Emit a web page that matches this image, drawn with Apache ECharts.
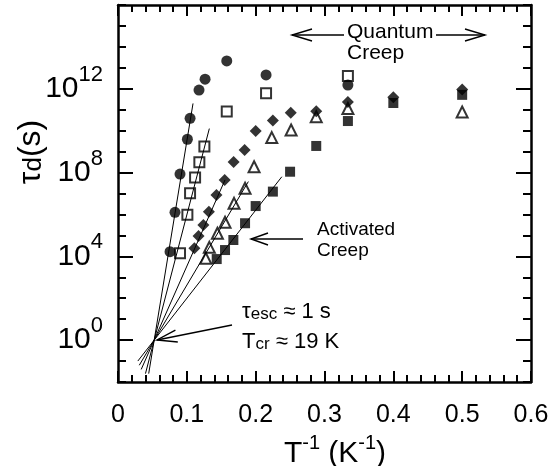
<!DOCTYPE html>
<html>
<head>
<meta charset="utf-8">
<script src="https://cdn.jsdelivr.net/npm/echarts@6/dist/echarts.min.js"></script>
<style>
html, body { margin: 0; padding: 0; background: #fff; }
#chart { width: 560px; height: 466px; }
</style>
</head>
<body>
<div id="chart"></div>
<script>
// x = 1/T (1/K), y = log10(tau_d / s)
var circleX = [0.0756, 0.0828, 0.0901, 0.1008, 0.1047, 0.1177, 0.1265, 0.158, 0.2151, 0.334];
var circleY = [4.22, 6.1, 7.93, 9.59, 10.59, 11.94, 12.46, 13.33, 12.66, 12.18];

var openSqX = [0.0901, 0.1008, 0.1047, 0.112, 0.1182, 0.1255, 0.158, 0.2151, 0.334];
var openSqY = [4.15, 5.98, 7.01, 7.76, 8.49, 9.24, 10.91, 11.79, 12.61];

var diamondX = [0.111, 0.117, 0.124, 0.132, 0.143, 0.155, 0.168, 0.184, 0.2, 0.225, 0.251, 0.288, 0.334, 0.4, 0.5];
var diamondY = [4.38, 4.97, 5.5, 6.13, 6.93, 7.65, 8.5, 9.08, 9.99, 10.48, 10.86, 10.93, 11.37, 11.59, 11.97];

var triangleX = [0.1275, 0.1327, 0.1444, 0.1555, 0.1686, 0.1846, 0.1977, 0.2234, 0.2515, 0.288, 0.334, 0.5];
var triangleY = [3.91, 4.43, 5.1, 5.63, 6.53, 7.25, 8.28, 9.67, 10.03, 10.67, 11.06, 10.89];

var squareX = [0.1434, 0.1555, 0.1676, 0.1846, 0.2, 0.225, 0.25, 0.288, 0.334, 0.4, 0.5];
var squareY = [3.87, 4.3, 4.78, 5.58, 6.4, 7.09, 8.04, 9.27, 10.46, 11.32, 11.71];

// activated-creep fits, all through T_cr = 19 K, tau_esc = 1 s
var fitX0 = [0.0446, 0.0399, 0.0337, 0.0309, 0.0288];
var fitY0 = [-1.6, -1.6, -1.4, -1.2, -1.0];
var fitX1 = [0.109, 0.1327, 0.1555, 0.1894, 0.238];
var fitY1 = [11.3, 10.1, 7.65, 7.57, 7.8];

var xTicks = [0, 0.1, 0.2, 0.3, 0.4, 0.5, 0.6];
var yLabelExp = [0, 4, 8, 12];

var font = 'Liberation Sans, Arial, Helvetica, sans-serif';

function pairs(xs, ys) {
	return xs.map(function (x, i) { return [x, ys[i]]; });
}

var myChart = echarts.init(document.getElementById('chart'));

var frame = { show: true, onZero: false, lineStyle: { color: '#000', width: 2.5 } };

function xAx(pos, showLabel) {
	return {
		type: 'value', position: pos, min: xTicks[0], max: xTicks[xTicks.length - 1], interval: 0.1,
		axisLine: frame,
		axisTick: { show: true, inside: true, length: 11, lineStyle: { color: '#000', width: 2 } },
		minorTick: { show: true, splitNumber: 5, length: 7, lineStyle: { color: '#000', width: 2 } },
		splitLine: { show: false },
		axisLabel: {
			show: showLabel, color: '#000', fontSize: 25, fontFamily: font, margin: 21,
			formatter: function (v) { return v === 0 ? '0' : v.toFixed(1); }
		}
	};
}

function yAx(pos, long, showLabel) {
	var a = {
		type: 'value', position: pos, min: -2, max: 16,
		axisLine: long ? { show: false, onZero: false } : frame,
		axisTick: { show: true, inside: true, length: long ? 15 : 8, lineStyle: { color: '#000', width: 2 } },
		splitLine: { show: false },
		axisLabel: { show: false }
	};
	if (long) {
		a.axisTick.customValues = yLabelExp;
		a.axisLabel = {
			show: showLabel, customValues: yLabelExp, margin: 15, fontFamily: font, color: '#000',
			padding: [0, 0, 10, 0],
			formatter: function (v) { return '{b|10}{s|' + v + '}'; },
			rich: {
				b: { fontSize: 30, fontFamily: font, color: '#000', lineHeight: 40, verticalAlign: 'bottom' },
				s: { fontSize: 22, fontFamily: font, color: '#000', lineHeight: 16, verticalAlign: 'top' }
			}
		};
	} else {
		a.interval = 1;
	}
	return a;
}

function markers(data, symbol, size, open) {
	return {
		type: 'scatter', data: data, symbol: symbol, symbolSize: size,
		xAxisIndex: 0, yAxisIndex: 0, z: 5, silent: true,
		itemStyle: open ? { color: 'rgba(0,0,0,0)', borderColor: '#000', borderWidth: 2 } : { color: '#000' }
	};
}

var series = [];
for (var i = 0; i < fitX0.length; i++) {
	series.push({
		type: 'line', data: [[fitX0[i], fitY0[i]], [fitX1[i], fitY1[i]]],
		showSymbol: false, silent: true, z: 2,
		lineStyle: { color: '#000', width: 1 }
	});
}
series.push(markers(pairs(circleX, circleY), 'circle', 11, false));
series.push(markers(pairs(openSqX, openSqY), 'rect', 10, true));
series.push(markers(pairs(diamondX, diamondY), 'diamond', 12, false));
series.push(markers(pairs(triangleX, triangleY), 'triangle', 11, true));
series.push(markers(pairs(squareX, squareY), 'rect', 10, false));

function line(pts) {
	return { type: 'polyline', silent: true, shape: { points: pts }, style: { stroke: '#000', lineWidth: 1.4, fill: null } };
}
function label(x, y, text, size, rich) {
	return {
		type: 'text', x: x, y: y, silent: true,
		style: { text: text, fill: '#000', fontSize: size, fontFamily: font, align: 'left', verticalAlign: 'middle', rich: rich }
	};
}

var subRich = {
	t: { fontSize: 22, fontFamily: font, color: '#000', lineHeight: 26, verticalAlign: 'bottom' },
	b: { fontSize: 17, fontFamily: font, color: '#000', lineHeight: 8, verticalAlign: 'bottom' }
};

myChart.setOption({
	animation: false,
	backgroundColor: '#fff',
	grid: { left: 118, right: 29, top: 5, bottom: 84, containLabel: false, outerBoundsMode: 'none' },
	xAxis: [xAx('bottom', true), xAx('top', false)],
	yAxis: [yAx('left', false, false), yAx('right', false, false), yAx('left', true, true), yAx('right', true, false)],
	series: series,
	graphic: [
		// Quantum creep double arrow
		line([[292, 35], [344, 35]]),
		line([[312, 29], [292, 35], [312, 41]]),
		line([[436, 35], [485, 35]]),
		line([[465, 29], [485, 35], [465, 41]]),
		label(347, 32, 'Quantum', 21),
		label(347, 53, 'Creep', 21),
		// activated creep
		line([[251, 239], [303, 239]]),
		line([[268, 233], [251, 239], [268, 245]]),
		label(317, 230, 'Activated', 19),
		label(317, 251, 'Creep', 19),
		// crossing point
		line([[157, 340], [232, 325]]),
		line([[175.4, 330.2], [157, 340], [177.8, 342]]),
		label(242, 310, '{t|τ}{b|esc}{t| ≈ 1 s}', 22, subRich),
		label(242, 340, '{t|T}{b|cr}{t| ≈ 19 K}', 22, subRich),
		// axis names
		{
			type: 'text', x: 335, y: 451, silent: true,
			style: {
				text: '{a|T}{s|-1}{a| (K}{s|-1}{a|)}', align: 'center', verticalAlign: 'middle',
				rich: {
					a: { fontSize: 30, fontFamily: font, color: '#000', lineHeight: 36, verticalAlign: 'bottom' },
					s: { fontSize: 20, fontFamily: font, color: '#000', lineHeight: 18, verticalAlign: 'top' }
				}
			}
		},
		{
			type: 'text', x: 27, y: 152, rotation: Math.PI / 2, silent: true,
			style: {
				text: '{a|τ}{d|d}{a|(s)}', align: 'center', verticalAlign: 'middle',
				rich: {
					a: { fontSize: 32, fontFamily: font, color: '#000', lineHeight: 40, verticalAlign: 'bottom' },
					d: { fontSize: 26, fontFamily: font, color: '#000', lineHeight: 10, verticalAlign: 'bottom' }
				}
			}
		}
	]
});

window.addEventListener('resize', function () {
	myChart.resize();
});
</script>
</body>
</html>
